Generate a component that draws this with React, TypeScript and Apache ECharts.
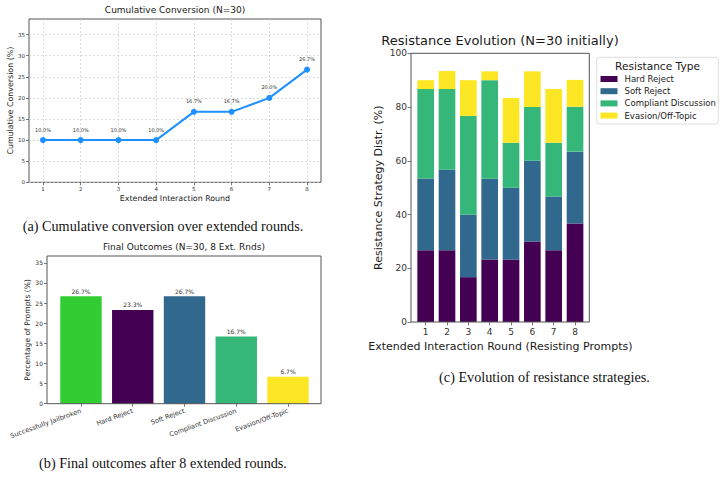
import React, { useEffect, useRef } from "react";
import * as echarts from "echarts";

// (a) cumulative conversion per extended round
const rounds = [1, 2, 3, 4, 5, 6, 7, 8];
const cumulativeConversion = [10.0, 10.0, 10.0, 10.0, 16.7, 16.7, 20.0, 26.7];
const conversionTicks = [0, 5, 10, 15, 20, 25, 30, 35];

// (b) final outcomes after 8 extended rounds
const outcomeLabels = [
  "Successfully Jailbroken",
  "Hard Reject",
  "Soft Reject",
  "Compliant Discussion",
  "Evasion/Off-Topic",
];
const outcomeValues = [26.7, 23.3, 26.7, 16.7, 6.7];
const outcomeColors = ["#32cd32", "#440154", "#31688e", "#35b779", "#fde725"];
const outcomeTicks = [0, 5, 10, 15, 20, 25, 30, 35];

// (c) resistance strategies among still-resisting prompts
const roundLabels = ["1", "2", "3", "4", "5", "6", "7", "8"];
const resistanceTypes = ["Hard Reject", "Soft Reject", "Compliant Discussion", "Evasion/Off-Topic"];
const resistanceColors = ["#440154", "#31688e", "#35b779", "#fde725"];
const hardReject = [26.7, 26.7, 16.7, 23.3, 23.3, 30.0, 26.7, 36.7];
const softReject = [26.7, 30.0, 23.3, 30.0, 26.7, 30.0, 20.0, 26.7];
const compliantDiscussion = [33.3, 30.0, 36.7, 36.7, 16.7, 20.0, 20.0, 16.7];
const evasionOffTopic = [3.3, 6.7, 13.3, 3.3, 16.7, 13.3, 20.0, 10.0];
const resistanceTicks = [0, 20, 40, 60, 80, 100];

const SANS = "DejaVu Sans";
const SERIF = "Liberation Serif";
const SPINE = "#555555";
const TICK_TEXT = "#333333";

// plot frames (axes boxes) for the two bar panels
const frameB = { x: 47, y: 256, w: 274, h: 147.7 };
const frameC = { x: 411, y: 53.3, w: 178.3, h: 268.7 };

export default function App() {
  const ref = useRef<HTMLDivElement>(null);

  useEffect(() => {
    if (!ref.current) return;
    const chart = echarts.init(ref.current, undefined, { renderer: "svg" });

    const tick = { show: true, inside: false, length: 3, lineStyle: { color: SPINE, width: 0.8 } };

    const resistanceSeries = [hardReject, softReject, compliantDiscussion, evasionOffTopic].map(
      (vals, k) => ({
        type: "bar",
        name: resistanceTypes[k],
        xAxisIndex: 2,
        yAxisIndex: 2,
        stack: "resist",
        barWidth: "78%",
        itemStyle: { color: resistanceColors[k] },
        data: vals,
      })
    );

    // bar panels: category bands span the bars, the frame is drawn around them
    const gridB = { left: 55.1, top: frameB.y, width: 258.8, height: frameB.h };
    const gridC = { left: 415, top: frameC.y, width: 170.7, height: frameC.h };

    const frameRect = (f: { x: number; y: number; w: number; h: number }) => ({
      type: "rect",
      z: 100,
      silent: true,
      shape: { x: f.x, y: f.y, width: f.w, height: f.h },
      style: { fill: "none", stroke: SPINE, lineWidth: 1 },
    });

    const caption = (text: string, x: number, y: number, size: number) => ({
      type: "text",
      x,
      y,
      style: { text, fontSize: size, fontFamily: SERIF, fill: "#111", align: "center", verticalAlign: "middle" },
    });

    const title = (text: string, x: number, y: number, size: number) => ({
      type: "text",
      x,
      y,
      style: { text, fontSize: size, fontFamily: SANS, fill: "#1a1a1a", align: "center", verticalAlign: "middle" },
    });

    chart.setOption({
      animation: false,
      backgroundColor: "#ffffff",
      textStyle: { fontFamily: SANS },
      grid: [
        { left: 29, top: 19, width: 292, height: 163.3, show: true, borderColor: SPINE, borderWidth: 1 },
        gridB,
        gridC,
      ],
      xAxis: [
        {
          type: "value",
          gridIndex: 0,
          min: 0.63,
          max: 8.37,
          name: "Extended Interaction Round",
          nameLocation: "middle",
          nameGap: 12.5,
          nameTextStyle: { fontSize: 7.9, color: "#222" },
          axisLine: { show: false },
          axisTick: { ...tick, customValues: rounds },
          axisLabel: { customValues: rounds, fontSize: 5.5, color: TICK_TEXT, margin: 4 },
          splitLine: { show: true, lineStyle: { color: "#cccccc", type: [2, 2], width: 0.7 } },
        },
        {
          type: "category",
          gridIndex: 1,
          data: outcomeLabels,
          axisLine: { show: false },
          axisTick: { ...tick, alignWithLabel: true },
          axisLabel: { fontSize: 6.6, color: TICK_TEXT, rotate: 20, margin: 7, interval: 0 },
          splitLine: { show: false },
        },
        {
          type: "category",
          gridIndex: 2,
          data: roundLabels,
          name: "Extended Interaction Round (Resisting Prompts)",
          nameLocation: "middle",
          nameGap: 17,
          nameTextStyle: { fontSize: 11, color: "#1a1a1a" },
          axisLine: { show: false },
          axisTick: { ...tick, length: 3.5, alignWithLabel: true },
          axisLabel: { fontSize: 9, color: TICK_TEXT, margin: 5, interval: 0 },
          splitLine: { show: false },
        },
      ],
      yAxis: [
        {
          type: "value",
          gridIndex: 0,
          min: 0,
          max: 38.7,
          name: "Cumulative Conversion (%)",
          nameLocation: "middle",
          nameGap: 14.5,
          nameTextStyle: { fontSize: 7.9, color: "#222" },
          axisLine: { show: false },
          axisTick: { ...tick, customValues: conversionTicks },
          axisLabel: { customValues: conversionTicks, fontSize: 5.5, color: TICK_TEXT, margin: 4 },
          splitLine: { show: true, lineStyle: { color: "#cccccc", type: [2, 2], width: 0.7 } },
        },
        {
          type: "value",
          gridIndex: 1,
          min: 0,
          max: 36.7,
          offset: gridB.left - frameB.x,
          name: "Percentage of Prompts (%)",
          nameLocation: "middle",
          nameGap: 14.5,
          nameTextStyle: { fontSize: 7.6, color: "#222" },
          axisLine: { show: false },
          axisTick: { ...tick, customValues: outcomeTicks },
          axisLabel: { customValues: outcomeTicks, fontSize: 6, color: TICK_TEXT, margin: 4 },
          splitLine: { show: false },
        },
        {
          type: "value",
          gridIndex: 2,
          min: 0,
          max: 100,
          offset: gridC.left - frameC.x,
          name: "Resistance Strategy Distr. (%)",
          nameLocation: "middle",
          nameGap: 27.5,
          nameTextStyle: { fontSize: 11, color: "#1a1a1a" },
          axisLine: { show: false },
          axisTick: { ...tick, length: 3.5, customValues: resistanceTicks },
          axisLabel: { customValues: resistanceTicks, fontSize: 9, color: TICK_TEXT, margin: 4 },
          splitLine: { show: false },
        },
      ],
      legend: {
        data: resistanceTypes,
        orient: "vertical",
        left: 600.5,
        top: 74,
        padding: 0,
        itemWidth: 17,
        itemHeight: 6,
        itemGap: 2.2,
        icon: "rect",
        selectedMode: false,
        textStyle: { fontSize: 8.5, color: "#222", lineHeight: 10, padding: [0, 0, 0, 2] },
      },
      series: [
        {
          type: "line",
          xAxisIndex: 0,
          yAxisIndex: 0,
          data: rounds.map((r, i) => [r, cumulativeConversion[i]]),
          lineStyle: { color: "#1e90ff", width: 2 },
          itemStyle: { color: "#1e90ff" },
          symbol: "circle",
          symbolSize: 6,
          label: {
            show: true,
            position: "top",
            distance: 5,
            fontSize: 5,
            color: "#333",
            formatter: (p: any) => `${p.value[1].toFixed(1)}%`,
          },
        },
        {
          type: "bar",
          xAxisIndex: 1,
          yAxisIndex: 1,
          barWidth: "80%",
          data: outcomeValues.map((v, i) => ({ value: v, itemStyle: { color: outcomeColors[i] } })),
          label: {
            show: true,
            position: "top",
            distance: 2,
            fontSize: 6,
            color: "#333",
            formatter: (p: any) => `${Number(p.value).toFixed(1)}%`,
          },
        },
        ...resistanceSeries,
      ],
      graphic: [
        frameRect(frameB),
        frameRect(frameC),
        title("Cumulative Conversion (N=30)", 175, 10, 9),
        title("Final Outcomes (N=30, 8 Ext. Rnds)", 184, 247.3, 9),
        title("Resistance Evolution (N=30 initially)", 500, 40, 13),
        // legend frame and title
        {
          type: "rect",
          z: -1,
          shape: { x: 596.7, y: 57.3, width: 121.6, height: 66.7, r: 2.5 },
          style: { fill: "#fff", stroke: "#d6d6d6", lineWidth: 0.8 },
        },
        title("Resistance Type", 657.5, 65.8, 10.6),
        caption("(a) Cumulative conversion over extended rounds.", 163, 226, 14.2),
        caption("(b) Final outcomes after 8 extended rounds.", 163, 463.3, 14.2),
        caption("(c) Evolution of resistance strategies.", 544.5, 376.7, 14.2),
      ],
    });

    return () => chart.dispose();
  }, []);

  return (
    <div
      ref={ref}
      style={{ position: "absolute", left: 0, top: 0, width: 725, height: 477 }}
    />
  );
}
